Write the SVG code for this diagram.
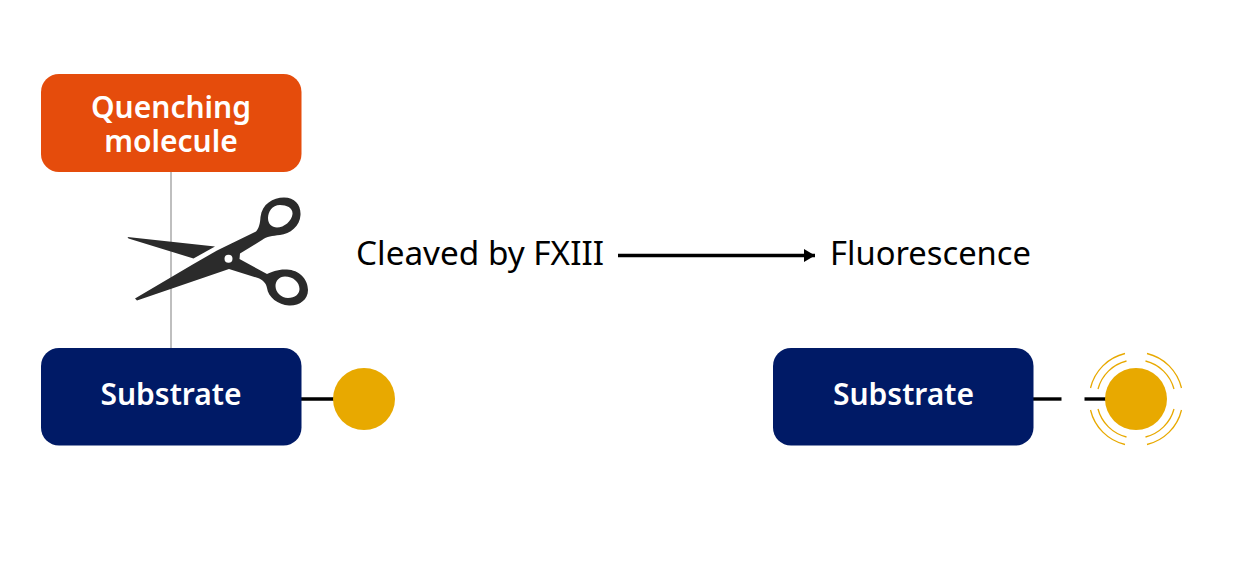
<svg xmlns="http://www.w3.org/2000/svg" width="1244" height="564" viewBox="0 0 1244 564">
<style>
text{font-family:"Noto Sans","Open Sans","Liberation Sans",sans-serif}
.l{fill:#fff;font-size:30px;font-weight:600;text-anchor:middle}
.t{fill:#000;font-size:33px}
.c{stroke:#000;stroke-width:3.4;fill:none}
.a{stroke:#e8a900;stroke-width:1.3;fill:none}
</style>
<defs><marker id="ah" markerUnits="userSpaceOnUse" markerWidth="12" markerHeight="14" refX="11" refY="7" orient="auto"><path d="M0,0.500 L11,7 L0,13.500Z" fill="#000"/></marker></defs>
<rect width="1244" height="564" fill="#fff"/>
<g id="connectors">
<line x1="171" y1="172" x2="171" y2="348" stroke="#a4a4a4" stroke-width="1.4"/>
<line class="c" x1="301" y1="399" x2="334" y2="399"/>
<line class="c" x1="1033" y1="399" x2="1061.500" y2="399"/>
<line class="c" x1="1084.500" y1="399" x2="1106" y2="399"/>
<line class="c" x1="618" y1="255.500" x2="815" y2="255.500" marker-end="url(#ah)"/>
</g>
<g id="quenching"><rect x="41" y="74" width="260.500" height="98" rx="18" fill="#e54c0c"/>
<text class="l"><tspan x="171" y="118">Quenching</tspan><tspan x="171" y="151.500">molecule</tspan></text></g>
<g id="scissors" fill="#2b2b2b">
<path d="M127.500,237 L128.500,238.500 L193.500,258.500 L215,246.500Z"/>
<path fill-rule="evenodd" d="M135,298.500 L193.500,264 L217,250.500 L256,231.500 C259,228 260,224 260.500,217 C262,204 273,197.500 284,197.500 C295,197.500 301,205 300.500,215 C300,226 290,234 280,235 C272,236 267,236 262,240 L240,253.500 L239.500,259 L267,274 C272,272 278,269 287,269.500 C299,270 308,279 308,290 C308,300 299,306 289,305.500 C278,305 268,297 267,288 C266,283 263,280 258,278 L229,269 L137,300.500Z
M280,205 C272,205 268,212 268,218 C268,224 272,227.500 277,227.500 C284,227.500 292,221 292.500,214 C293,208 287,205 280,205Z
M285,276.500 C279,276.500 275.500,281 275.500,286 C275.500,292 281,298 288,298 C295,298 299.500,294 299.500,289 C299.500,282 293,276.500 285,276.500Z
M232.500,258.700 A4,4 0 1 0 224.500,258.700 A4,4 0 1 0 232.500,258.700Z"/>
</g>
<g id="substrate1"><rect x="41" y="348" width="260.500" height="97.500" rx="18" fill="#001a66"/>
<text class="l" x="171" y="404.500">Substrate</text></g>
<circle id="dot1" cx="364" cy="399" r="31" fill="#e8a900"/>
<g id="substrate2"><rect x="773" y="348" width="260.500" height="97.500" rx="18" fill="#001a66"/>
<text class="l" x="903.500" y="404.500">Substrate</text></g>
<g id="dot2"><circle cx="1136" cy="399" r="31" fill="#e8a900"/>
<path class="a" d="M1126.500,361 A39.300,39.300 0 0 0 1098,389 M1145.500,361 A39.300,39.300 0 0 1 1174,389 M1126.500,437 A39.300,39.300 0 0 1 1098,409 M1145.500,437 A39.300,39.300 0 0 0 1174,409"/>
<path class="a" d="M1125,353.500 A46.500,46.500 0 0 0 1090.500,388 M1147,353.500 A46.500,46.500 0 0 1 1181.500,388 M1125,444.500 A46.500,46.500 0 0 1 1090.500,410 M1147,444.500 A46.500,46.500 0 0 0 1181.500,410"/></g>
<text id="cleaved" class="t" x="356" y="265" textLength="248" lengthAdjust="spacingAndGlyphs">Cleaved by FXIII</text>
<text id="fluorescence" class="t" x="830" y="265" textLength="201" lengthAdjust="spacingAndGlyphs">Fluorescence</text>
</svg>
